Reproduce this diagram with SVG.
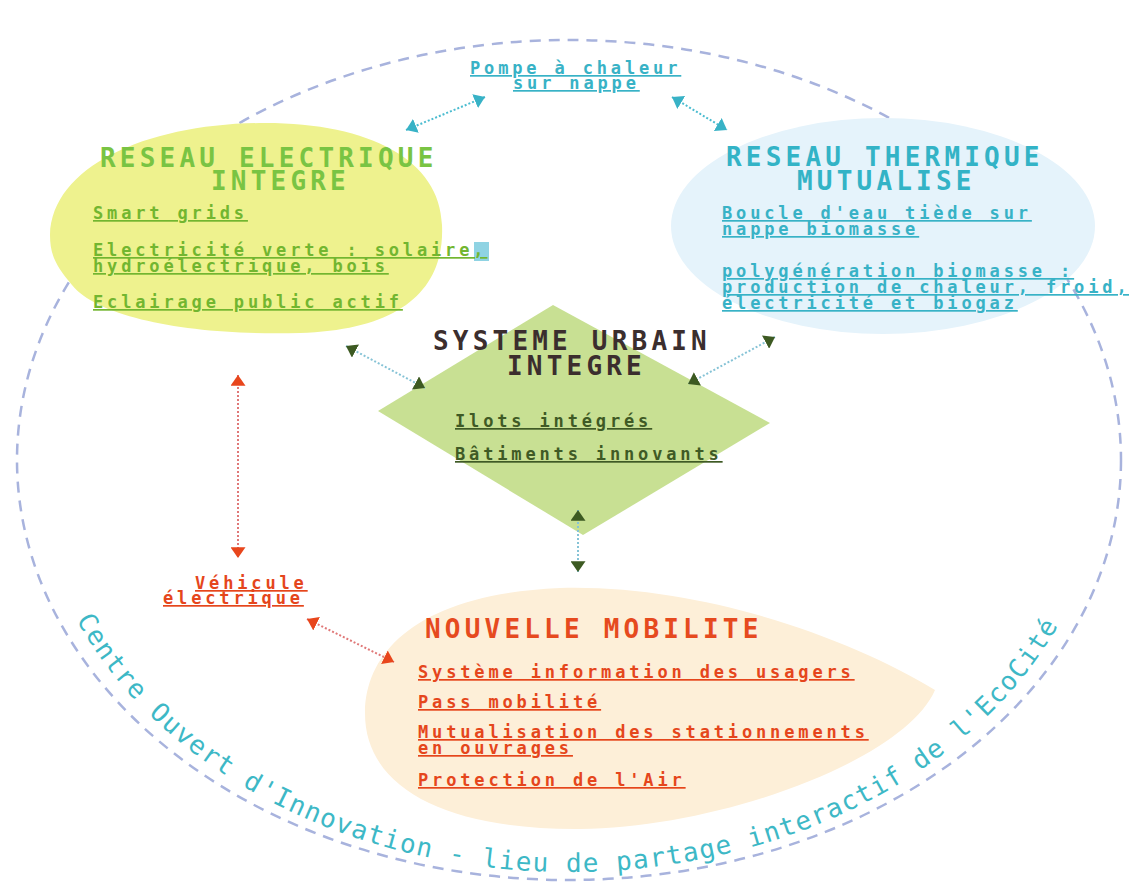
<svg xmlns="http://www.w3.org/2000/svg" width="1129" height="887" viewBox="0 0 1129 887">
<style>
.t{font-family:"DejaVu Sans Mono","Liberation Mono",monospace;font-weight:bold;font-size:26px;letter-spacing:4.2px}
.i{font-family:"DejaVu Sans Mono","Liberation Mono",monospace;font-weight:bold;font-size:17px;letter-spacing:3.85px;text-decoration:underline}
.gT{fill:#79c443}.gI{fill:#72b630}
.cT{fill:#33b3c6}.cI{fill:#38b2c6}
.dT{fill:#3b2e2e}.dI{fill:#3f5a25}
.rT{fill:#e64a1e}.rI{fill:#e5461c}
.arc{font-family:"DejaVu Sans Mono","Liberation Mono",monospace;font-size:26px;letter-spacing:1.3px;fill:#3db8c6}
.lc{fill:none;stroke:#4bbcd0;stroke-width:2;stroke-dasharray:2 2}
.ld{fill:none;stroke:#86c3d6;stroke-width:2;stroke-dasharray:2 2}
.lr{fill:none;stroke:#e07878;stroke-width:2;stroke-dasharray:2 2}
</style>
<defs>
<marker id="mc" viewBox="0 0 10 14" refX="10" refY="7" markerWidth="11" markerHeight="15" markerUnits="userSpaceOnUse" orient="auto-start-reverse"><path d="M0,0 L10,7 L0,14 z" fill="#38b2c6"/></marker>
<marker id="md" viewBox="0 0 10 14" refX="10" refY="7" markerWidth="11" markerHeight="15" markerUnits="userSpaceOnUse" orient="auto-start-reverse"><path d="M0,0 L10,7 L0,14 z" fill="#3d5a22"/></marker>
<marker id="mr" viewBox="0 0 10 14" refX="10" refY="7" markerWidth="11" markerHeight="15" markerUnits="userSpaceOnUse" orient="auto-start-reverse"><path d="M0,0 L10,7 L0,14 z" fill="#e8461c"/></marker>
<path id="arcText" d="M 76.5 619.8 A 535 414 0 0 0 1057.7 626.4"/>
</defs>
<rect width="1129" height="887" fill="#ffffff"/>

<g id="boundary">
<ellipse cx="569" cy="460" rx="552" ry="420" fill="none" stroke="#a8b3dd" stroke-width="2.5" stroke-dasharray="11 8"/>
</g>

<g id="node-electrique">
<path d="M 50 235 C 52 165 150 123 265 123 C 370 123 440 160 442 225 C 445 290 400 330 300 333 C 200 336 100 320 72 285 C 56 266 50 255 50 235 Z" fill="#eef28e"/>
<rect x="474" y="242" width="15" height="19" fill="#8fd3e3"/>
<text class="t gT"><tspan x="100" y="167">RESEAU ELECTRIQUE</tspan><tspan x="211" y="190">INTEGRE</tspan></text>
<text class="i gI" x="93" y="219">Smart grids</text>
<text class="i gI"><tspan x="93" y="256">Electricité verte : solaire,</tspan><tspan x="93" y="272">hydroélectrique, bois</tspan></text>
<text class="i gI" x="93" y="308">Eclairage public actif</text>
</g>

<g id="node-thermique">
<ellipse cx="883" cy="226" rx="212" ry="108" fill="#e5f3fb"/>
<text class="t cT"><tspan x="726" y="166">RESEAU THERMIQUE</tspan><tspan x="797" y="190">MUTUALISE</tspan></text>
<text class="i cI"><tspan x="722" y="219">Boucle d'eau tiède sur</tspan><tspan x="722" y="235">nappe biomasse</tspan></text>
<text class="i cI"><tspan x="722" y="277">polygénération biomasse :</tspan><tspan x="722" y="293">production de chaleur, froid,</tspan><tspan x="722" y="309">électricité et biogaz</tspan></text>
</g>

<g id="node-urbain">
<polygon points="553,305 770,423 583,535 378,411" fill="#c8e093"/>
<text class="t dT"><tspan x="433" y="350">SYSTEME URBAIN</tspan><tspan x="507" y="375">INTEGRE</tspan></text>
<text class="i dI" x="455" y="427">Ilots intégrés</text>
<text class="i dI" x="455" y="460">Bâtiments innovants</text>
</g>

<g id="node-mobilite">
<path d="M 365 712 C 366 650 420 594 560 588 C 700 584 850 638 935 690 C 905 760 720 828 580 829 C 450 830 364 790 365 712 Z" fill="#fdefd8"/>
<text class="t rT" x="425" y="638">NOUVELLE MOBILITE</text>
<text class="i rI" x="418" y="678">Système information des usagers</text>
<text class="i rI" x="418" y="708">Pass mobilité</text>
<text class="i rI"><tspan x="418" y="738">Mutualisation des stationnements</tspan><tspan x="418" y="754">en ouvrages</tspan></text>
<text class="i rI" x="418" y="786">Protection de l'Air</text>
</g>

<g id="node-pompe">
<text class="i cI"><tspan x="470" y="74">Pompe à chaleur</tspan><tspan x="513" y="89">sur nappe</tspan></text>
</g>

<g id="node-vehicule">
<text class="i rI"><tspan x="195" y="589">Véhicule</tspan><tspan x="163" y="604">électrique</tspan></text>
</g>

<g id="boundary-label">
<text class="arc"><textPath href="#arcText" startOffset="0">Centre</textPath></text>
<text class="arc"><textPath href="#arcText" startOffset="118.7">Ouvert</textPath></text>
<text class="arc"><textPath href="#arcText" startOffset="237.3">d'Inno</textPath></text>
<text class="arc"><textPath href="#arcText" startOffset="339">vation</textPath></text>
<text class="arc"><textPath href="#arcText" startOffset="457.7">-</textPath></text>
<text class="arc"><textPath href="#arcText" startOffset="491.6">lieu</textPath></text>
<text class="arc"><textPath href="#arcText" startOffset="576.4">de</textPath></text>
<text class="arc"><textPath href="#arcText" startOffset="627.2">partage</textPath></text>
<text class="arc"><textPath href="#arcText" startOffset="762.8">inter</textPath></text>
<text class="arc"><textPath href="#arcText" startOffset="847.6">actif</textPath></text>
<text class="arc"><textPath href="#arcText" startOffset="949.3">de</textPath></text>
<text class="arc"><textPath href="#arcText" startOffset="1000.2">l'EcoCité</textPath></text>
</g>

<g id="connectors">
<path class="lc" d="M 485 97 L 406 130" marker-start="url(#mc)" marker-end="url(#mc)"/>
<path class="lc" d="M 672 97 L 727 130" marker-start="url(#mc)" marker-end="url(#mc)"/>
<path class="ld" d="M 346 346 L 425 388" marker-start="url(#md)" marker-end="url(#md)"/>
<path class="ld" d="M 775 337 L 688 384" marker-start="url(#md)" marker-end="url(#md)"/>
<path class="ld" d="M 578 510 L 578 572" marker-start="url(#md)" marker-end="url(#md)"/>
<path class="lr" d="M 238 375 L 238 558" marker-start="url(#mr)" marker-end="url(#mr)"/>
<path class="lr" d="M 307 619 L 394 662" marker-start="url(#mr)" marker-end="url(#mr)"/>
</g>
</svg>
